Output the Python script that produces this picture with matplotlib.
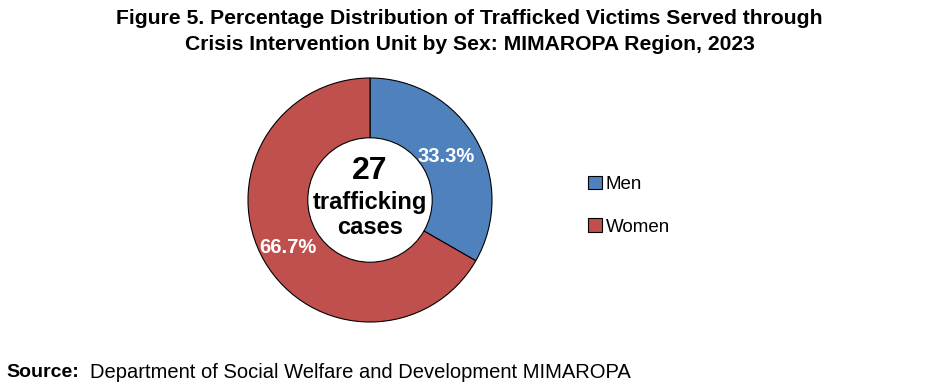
import numpy as np
import matplotlib.pyplot as plt

plt.rcParams['font.family'] = ['Liberation Sans', 'DejaVu Sans']

# datos del gráfico
labels = ['Men', 'Women']
shares = [33.3, 66.7]
colors = ['#4F81BD', '#C0504D']
total_cases = 27

fig = plt.figure(figsize=(9.39, 3.85), dpi=100)

fig.text(0.5, 0.977, 'Figure 5. Percentage Distribution of Trafficked Victims Served through\n'
         'Crisis Intervention Unit by Sex: MIMAROPA Region, 2023',
         ha='center', va='top', fontsize=15.2, fontweight='bold', linespacing=1.5)

# eje del donut (centro ~ (370,200), radio ~122 px)
ax = fig.add_axes([248 / 939, 63 / 385, 244 / 939, 244 / 385])
wedges, _ = ax.pie(shares, colors=colors, startangle=90, counterclock=False,
                   wedgeprops=dict(width=0.49, edgecolor='black', linewidth=0.8))
ax.set_xlim(-1, 1)
ax.set_ylim(-1, 1)
ax.set_aspect('equal')
ax.axis('off')

# etiquetas de porcentaje
label_r = [0.72, 0.78]
for w, val, r in zip(wedges, shares, label_r):
    ang = np.deg2rad((w.theta1 + w.theta2) / 2)
    ax.text(r * np.cos(ang), r * np.sin(ang), f'{val:.1f}%', color='white',
            fontsize=14.5, fontweight='bold', ha='center', va='center')

ax.text(0, 0.24, str(total_cases), fontsize=23, fontweight='bold', ha='center', va='center')
ax.text(0, -0.12, 'trafficking\ncases', fontsize=17, fontweight='bold',
        ha='center', va='center', linespacing=1.1)

leg = fig.legend(wedges, labels, loc='center left', bbox_to_anchor=(0.608, 0.466),
                 frameon=False, fontsize=13.5, handlelength=0.75, handleheight=0.75,
                 handletextpad=0.2, labelspacing=1.35)
for h in leg.legend_handles:
    h.set_edgecolor('black')
    h.set_linewidth(0.8)

fig.text(0.007, 0.033, 'Source:', fontsize=14, fontweight='bold', ha='left', va='center')
fig.text(90 / 939, 0.033, 'Department of Social Welfare and Development MIMAROPA',
         fontsize=14.5, ha='left', va='center')

fig.savefig('out.png', dpi=100)
